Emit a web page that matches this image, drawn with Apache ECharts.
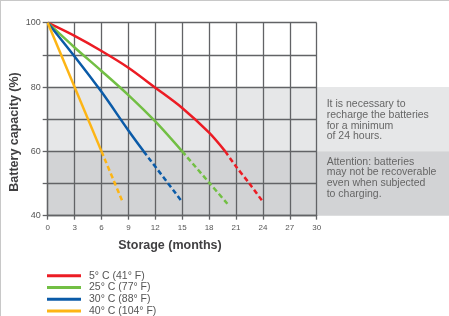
<!DOCTYPE html>
<html>
<head>
<meta charset="utf-8">
<script src="https://cdn.jsdelivr.net/npm/echarts@6/dist/echarts.min.js"></script>
<style>
  html, body { margin: 0; padding: 0; background: #fff; }
  #chart {
    width: 449px;
    height: 316px;
    box-sizing: border-box;
    border-top: 1px solid #c8c8c8;
    border-left: 1px solid #c8c8c8;
  }
</style>
</head>
<body>
<div id="chart"></div>
<script>
// series names (legend)
const names = ['5° C (41° F)', '25° C (77° F)', '30° C (88° F)', '40° C (104° F)'];
const colors = ['#ec1c24', '#72bf44', '#0b5ba8', '#fdb515'];

// solid part: months / capacity
const solidMonths = [
  [0, 3, 6, 9, 12, 15, 18, 19.8],
  [0, 3, 6, 9, 12, 15],
  [0, 3, 6, 9, 10.7],
  [0, 6]
];
const solidCap = [
  [100, 95.9, 91.2, 86, 79.8, 73.5, 65.8, 60],
  [100, 92.3, 85, 77.5, 69.3, 60],
  [100, 89.5, 78.5, 66.5, 60],
  [100, 60]
];
// dashed part (not recoverable zone)
const dashMonths = [
  [19.8, 21, 22.5, 24],
  [15, 18, 20.2],
  [10.7, 15],
  [6, 8.4]
];
const dashCap = [
  [60, 55.3, 50, 44.3],
  [60, 50.3, 43.2],
  [60, 44.3],
  [60, 44]
];

const xTicks = [0, 3, 6, 9, 12, 15, 18, 21, 24, 27, 30];
const yLabels = [40, 60, 80, 100];

const note1 = 'It is necessary to\nrecharge the batteries\nfor a minimum\nof 24 hours.';
const note2 = 'Attention: batteries\nmay not be recoverable\neven when subjected\nto charging.';

const pair = (xs, ys) => xs.map((x, i) => [x, ys[i]]);

const series = [];
names.forEach((name, i) => {
  series.push({
    name: name,
    type: 'line',
    data: pair(solidMonths[i], solidCap[i]),
    smooth: 0.3,
    showSymbol: false,
    color: colors[i],
    lineStyle: { width: 2.5, color: colors[i] },
    z: 5
  });
  series.push({
    name: name,
    type: 'line',
    data: pair(dashMonths[i], dashCap[i]),
    smooth: 0.3,
    showSymbol: false,
    color: colors[i],
    lineStyle: { width: 2.5, color: colors[i], type: [5, 3] },
    z: 5
  });
});

const gridLine = { color: '#626366', width: 1.3 };
const font = 'Liberation Sans, Arial, sans-serif';

// one legend block per item, stacked
const legends = names.map((n, i) => ({
  data: [n],
  left: 46, top: 269 + i * 11.7,
  padding: 0,
  icon: 'rect',
  itemWidth: 34, itemHeight: 3,
  textStyle: { fontSize: 10.5, color: '#555', fontFamily: font, lineHeight: 11.7, padding: [0, 0, 0, 3] }
}));

const chart = echarts.init(document.getElementById('chart'));
chart.setOption({
  animation: false,
  grid: { left: 46.7, right: 132.3, top: 21.7, bottom: 100.3 },
  xAxis: {
    type: 'value',
    min: 0, max: 30, interval: 3,
    axisLine: { show: true, lineStyle: gridLine },
    axisTick: { show: true, length: 4, lineStyle: gridLine },
    splitLine: { show: true, lineStyle: gridLine },
    axisLabel: {
      fontSize: 8, color: '#555', margin: 8, fontFamily: font,
      formatter: v => xTicks.includes(v) ? String(v) : ''
    }
  },
  yAxis: {
    type: 'value',
    min: 40, max: 100, interval: 10,
    axisLine: { show: true, lineStyle: gridLine },
    axisTick: { show: true, length: 5, lineStyle: gridLine },
    splitLine: { show: true, lineStyle: gridLine },
    axisLabel: {
      fontSize: 9, color: '#555', margin: 7, fontFamily: font,
      formatter: v => yLabels.includes(v) ? String(v) : ''
    }
  },
  legend: legends,
  series: series
});

// background bands and notes, placed through the y scale
const px = v => chart.convertToPixel({ yAxisIndex: 0 }, v);
const x0 = chart.convertToPixel({ xAxisIndex: 0 }, 0);
const xr = chart.convertToPixel({ xAxisIndex: 0 }, 30);
const W = chart.getWidth();
chart.setOption({
  graphic: [
    { type: 'rect', z: -10, silent: true,
      shape: { x: x0, y: px(80), width: W - x0, height: px(60) - px(80) },
      style: { fill: '#e6e7e8' } },
    { type: 'rect', z: -10, silent: true,
      shape: { x: x0, y: px(60), width: W - x0, height: px(40) - px(60) },
      style: { fill: '#d2d3d5' } },
    { type: 'text', left: xr + 10, top: px(80) + 12,
      style: { text: note1, fill: '#666', font: '10.5px ' + font, lineHeight: 10.6 } },
    { type: 'text', left: xr + 10, top: px(60) + 5,
      style: { text: note2, fill: '#666', font: '10.5px ' + font, lineHeight: 10.6 } },
    { type: 'text', x: 169, y: 245,
      style: { text: 'Storage (months)', fill: '#414042', font: 'bold 12.5px ' + font, align: 'center', verticalAlign: 'middle' } },
    { type: 'text', x: 14, y: 131, rotation: Math.PI / 2,
      style: { text: 'Battery capacity (%)', fill: '#414042', font: 'bold 12.5px ' + font, align: 'center', verticalAlign: 'middle' } }
  ]
});
</script>
</body>
</html>
